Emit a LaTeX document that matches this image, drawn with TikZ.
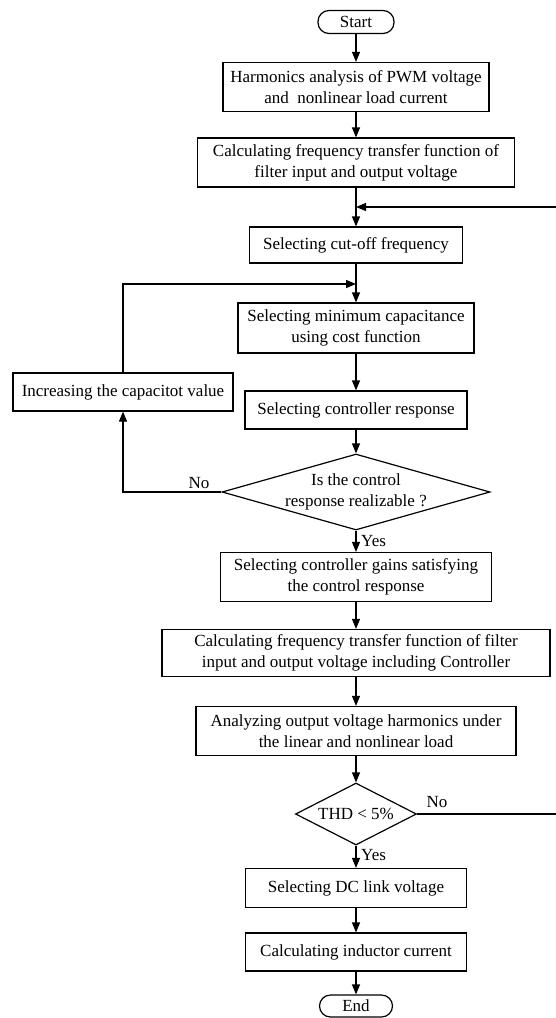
\documentclass[tikz,border=0pt]{standalone}
\usepackage{fontspec}
\setmainfont{Liberation Serif}
\usetikzlibrary{shapes.geometric,arrows.meta}
\begin{document}
\begin{tikzpicture}[x=1pt,y=-1pt,
  every node/.style={font=\fontsize{17}{21}\selectfont},
  box/.style={draw,line width=1.2pt,rectangle,inner sep=0pt,align=center},
  term/.style={draw,line width=1.2pt,rectangle,rounded corners=11pt,inner sep=0pt},
  dia/.style={draw,line width=1.2pt,diamond,inner sep=0pt},
  arr/.style={line width=1.2pt,-{Triangle[length=10pt,width=8pt]}},
  lbl/.style={inner sep=0pt}]
\useasboundingbox (0,0) rectangle (556,1018);
\fill[white] (0,0) rectangle (556,1018);

\node[term,minimum width=76pt,minimum height=23pt] (start) at (356,22) {Start};
\node[box,minimum width=266pt,minimum height=49pt] (b1) at (356,87) {Harmonics analysis of PWM voltage\\and\ \ nonlinear load current};
\node[box,minimum width=317pt,minimum height=49pt] (b2) at (356,162.5) {Calculating frequency transfer function of\\filter input and output voltage};
\node[box,minimum width=213pt,minimum height=36pt] (b3) at (356,245) {Selecting cut-off frequency};
\node[box,minimum width=236pt,minimum height=50pt] (b4) at (356,328) {Selecting minimum capacitance\\using cost function};
\node[box,minimum width=220pt,minimum height=38pt] (inc) at (123,392) {Increasing the capacitot value};
\node[box,minimum width=222pt,minimum height=38pt] (b5) at (356,410) {Selecting controller response};
\node[dia,minimum width=268pt,minimum height=76pt] (d1) at (356,492) {};
\node[lbl,align=center] (d1t) at (356,492) {Is the control\\response realizable ?};
\node[box,minimum width=271pt,minimum height=49pt] (b6) at (356,577) {Selecting controller gains satisfying\\the control response};
\node[box,minimum width=388pt,minimum height=47pt] (b7) at (356,653) {Calculating frequency transfer function of filter\\input and output voltage including Controller};
\node[box,minimum width=320pt,minimum height=49pt] (b8) at (356,731) {Analyzing output voltage harmonics under\\the linear and nonlinear load};
\node[dia,minimum width=121pt,minimum height=62pt] (d2) at (356,814) {};
\node[lbl] (d2t) at (356,814) {THD < 5\%};
\node[box,minimum width=221pt,minimum height=39pt] (b9) at (356,888) {Selecting DC link voltage};
\node[box,minimum width=221pt,minimum height=38pt] (b10) at (356,952) {Calculating inductor current};
\node[term,minimum width=73pt,minimum height=22pt] (end) at (356,1006) {End};

\coordinate (fb) at (356,207);
\coordinate (lp) at (356,284);
\coordinate (rt) at (562,814);

\draw[arr] (start) -- (b1);
\draw[arr] (b1) -- (b2);
\draw[arr] (b2) -- (b3);
\draw[arr] (b3) -- (b4);
\draw[arr] (b4) -- (b5);
\draw[arr] (b5) -- (d1);
\draw[arr] (d1) -- (b6);
\draw[arr] (b6) -- (b7);
\draw[arr] (b7) -- (b8);
\draw[arr] (b8) -- (d2);
\draw[arr] (d2) -- (b9);
\draw[arr] (b9) -- (b10);
\draw[arr] (b10) -- (end);

\draw[arr] (inc.north) |- (lp);
\draw[arr] (d1.west) -| (inc.south);
\draw[arr] (d2.east) -- (rt) |- (fb);

\node[lbl] (no1) at (199,483) {No};
\node[lbl,anchor=west] (yes1) at (361,541) {Yes};
\node[lbl] (no2) at (437,802) {No};
\node[lbl,anchor=west] (yes2) at (361,855) {Yes};
\end{tikzpicture}
\end{document}
